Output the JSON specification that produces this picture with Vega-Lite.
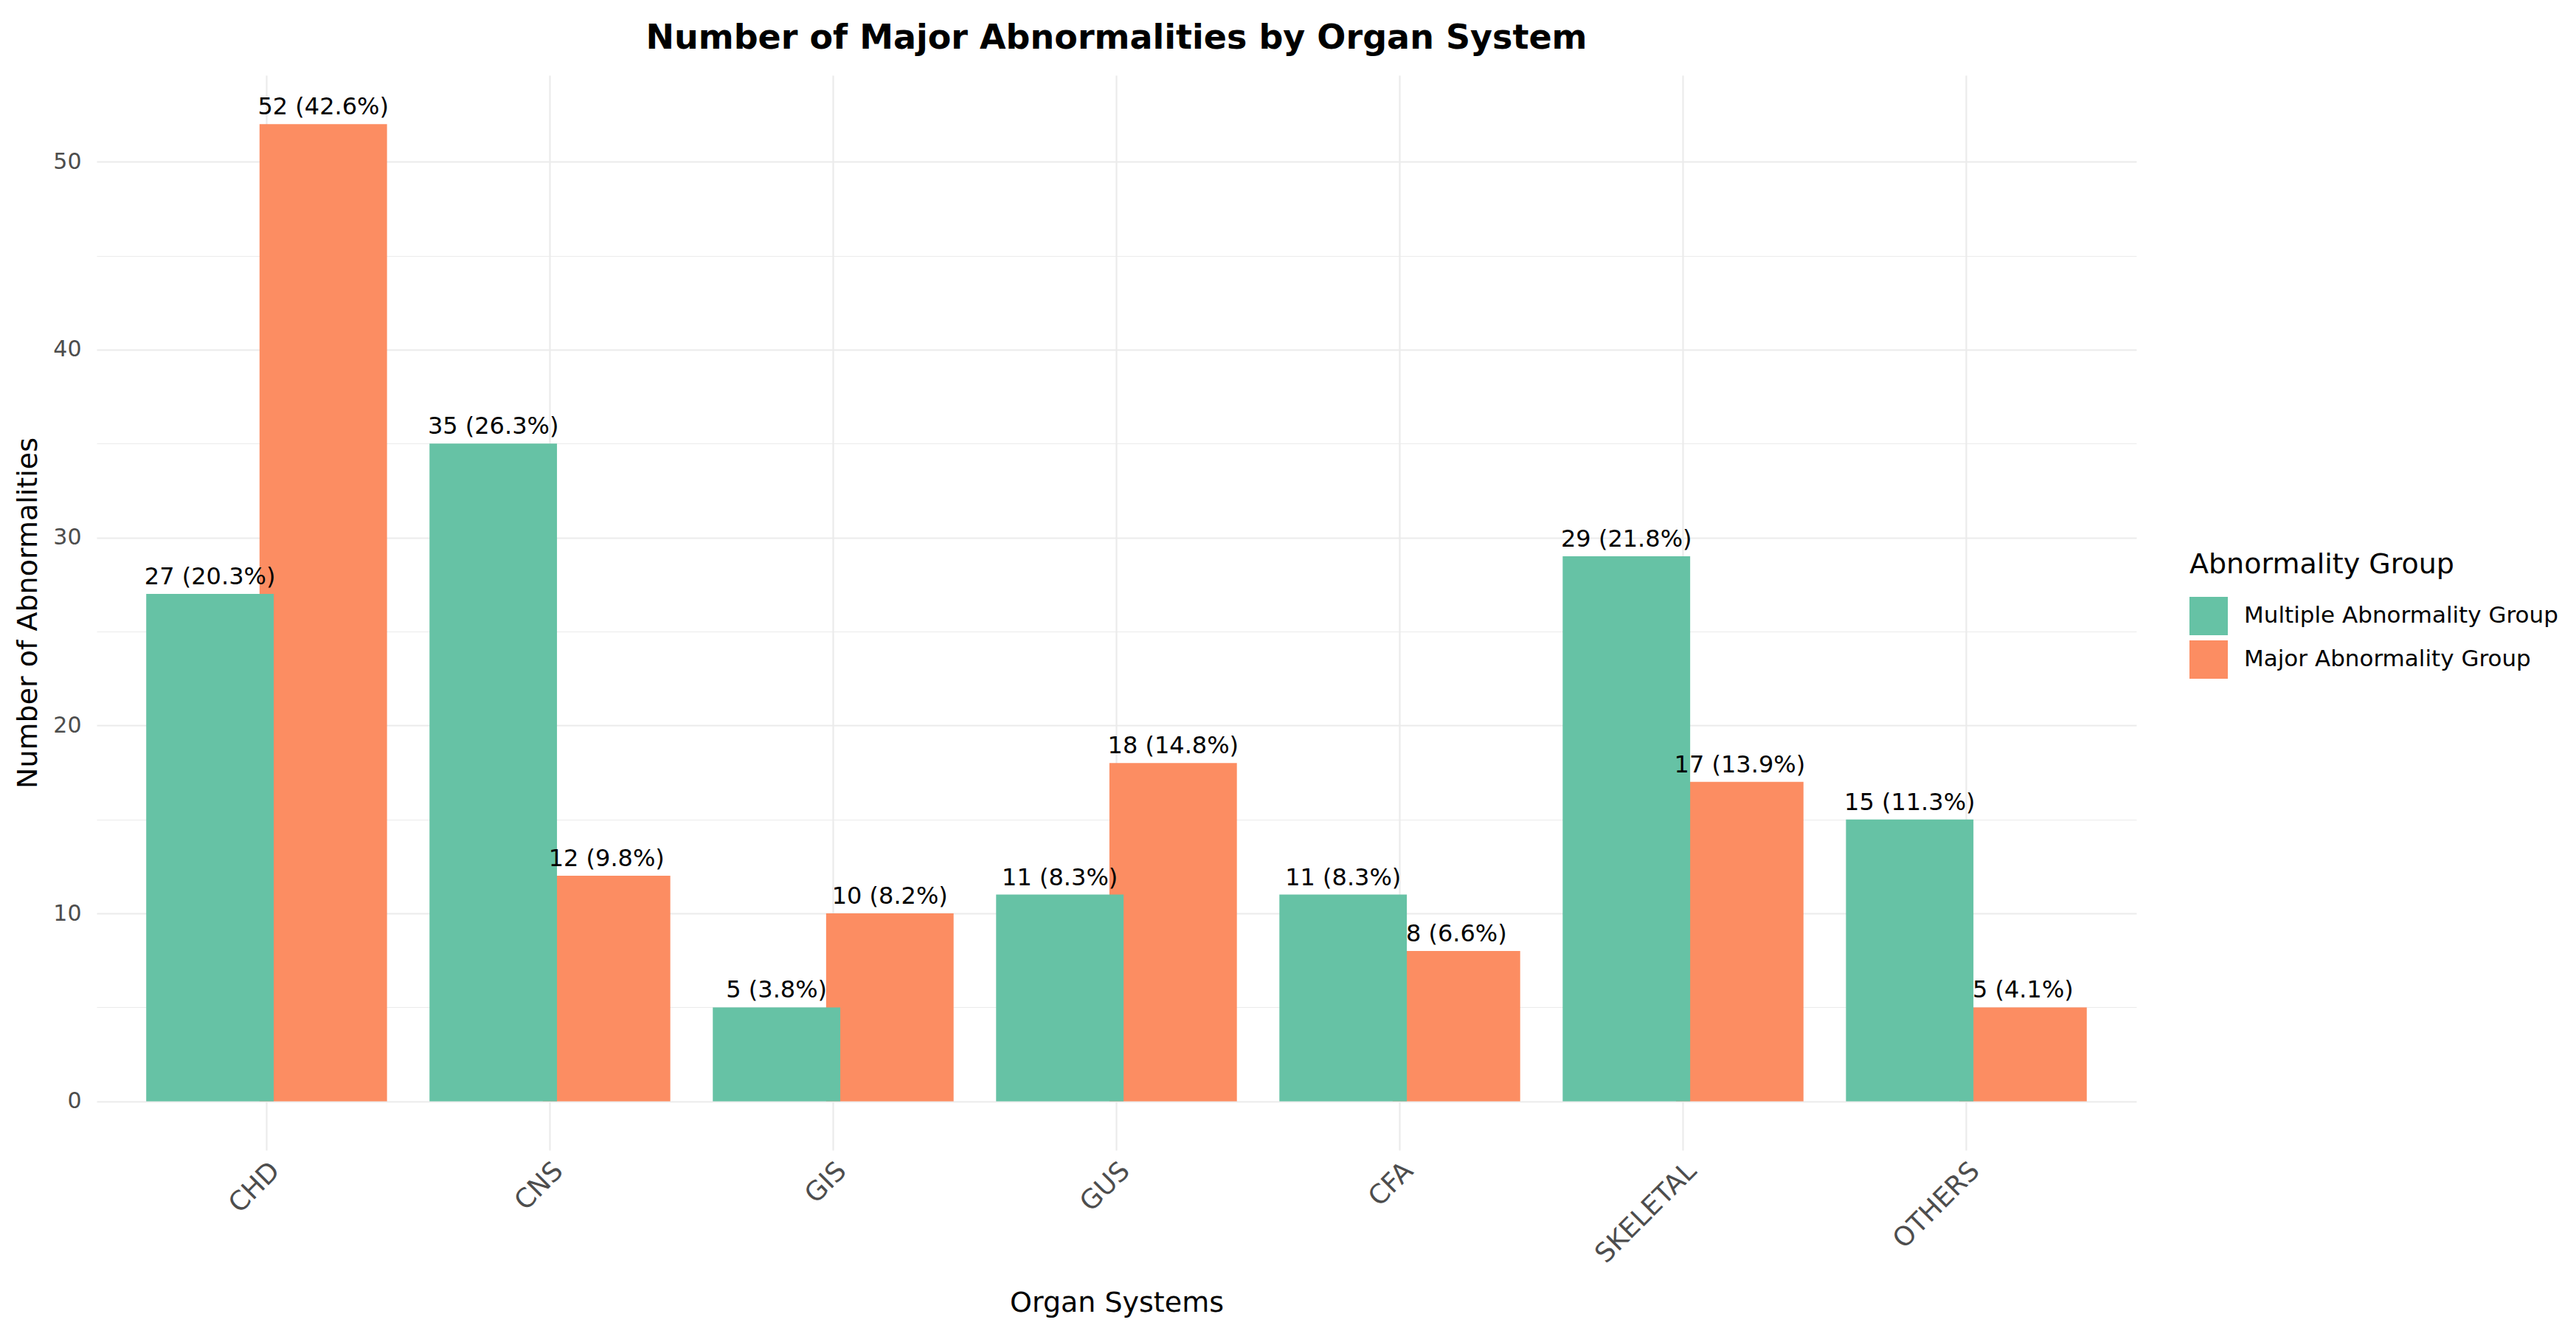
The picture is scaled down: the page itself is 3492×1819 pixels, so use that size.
{
  "$schema": "https://vega.github.io/schema/vega-lite/v6.json",
  "width": 2765,
  "height": 1457,
  "autosize": {"type": "none"},
  "padding": {"left": 131, "top": 102, "right": 596, "bottom": 260},
  "background": "white",
  "title": {
    "text": "Number of Major Abnormalities by Organ System",
    "font": "DejaVu Sans",
    "fontSize": 46,
    "fontWeight": "bold",
    "color": "#000000",
    "anchor": "middle",
    "offset": 26
  },
  "config": {"view": {"stroke": null}, "font": "DejaVu Sans"},
  "data": {
    "values": [
      {"system": "CHD", "group": "Major Abnormality Group", "count": 52, "label": "52 (42.6%)"},
      {"system": "CNS", "group": "Major Abnormality Group", "count": 12, "label": "12 (9.8%)"},
      {"system": "GIS", "group": "Major Abnormality Group", "count": 10, "label": "10 (8.2%)"},
      {"system": "GUS", "group": "Major Abnormality Group", "count": 18, "label": "18 (14.8%)"},
      {"system": "CFA", "group": "Major Abnormality Group", "count": 8, "label": "8 (6.6%)"},
      {"system": "SKELETAL", "group": "Major Abnormality Group", "count": 17, "label": "17 (13.9%)"},
      {"system": "OTHERS", "group": "Major Abnormality Group", "count": 5, "label": "5 (4.1%)"},
      {"system": "CHD", "group": "Multiple Abnormality Group", "count": 27, "label": "27 (20.3%)"},
      {"system": "CNS", "group": "Multiple Abnormality Group", "count": 35, "label": "35 (26.3%)"},
      {"system": "GIS", "group": "Multiple Abnormality Group", "count": 5, "label": "5 (3.8%)"},
      {"system": "GUS", "group": "Multiple Abnormality Group", "count": 11, "label": "11 (8.3%)"},
      {"system": "CFA", "group": "Multiple Abnormality Group", "count": 11, "label": "11 (8.3%)"},
      {"system": "SKELETAL", "group": "Multiple Abnormality Group", "count": 29, "label": "29 (21.8%)"},
      {"system": "OTHERS", "group": "Multiple Abnormality Group", "count": 15, "label": "15 (11.3%)"}
    ]
  },
  "encoding": {
    "x": {
      "field": "system",
      "type": "nominal",
      "sort": ["CHD", "CNS", "GIS", "GUS", "CFA", "SKELETAL", "OTHERS"],
      "scale": {"paddingInner": 0.1, "paddingOuter": 0.15},
      "axis": {
        "title": "Organ Systems",
        "labelAngle": -45,
        "labelAlign": "right",
        "labelBaseline": "top",
        "bandPosition": 0.5,
        "grid": true,
        "gridColor": "#ebebeb",
        "gridWidth": 2.2,
        "ticks": false,
        "domain": false,
        "labelFont": "DejaVu Sans",
        "labelFontSize": 36,
        "labelColor": "#4d4d4d",
        "labelPadding": 10,
        "labelLimit": 1000,
        "titleFont": "DejaVu Sans",
        "titleFontSize": 38,
        "titleFontWeight": "normal",
        "titleColor": "#000000",
        "titlePadding": 29
      }
    },
    "xOffset": {
      "field": "group",
      "type": "nominal",
      "sort": ["Multiple Abnormality Group", "Major Abnormality Group"],
      "scale": {"paddingInner": 0, "paddingOuter": 0.125, "align": 0.8125}
    },
    "y": {
      "field": "count",
      "type": "quantitative",
      "stack": null,
      "scale": {"domain": [-2.6, 54.6], "nice": false, "zero": false},
      "axis": {
        "title": "Number of Abnormalities",
        "values": [0, 5, 10, 15, 20, 25, 30, 35, 40, 45, 50],
        "labelExpr": "datum.value % 10 === 0 ? datum.label : ''",
        "gridColor": "#ebebeb",
        "gridWidth": {"condition": {"test": "datum.value % 10 === 0", "value": 2.2}, "value": 1.1},
        "ticks": false,
        "domain": false,
        "labelFont": "DejaVu Sans",
        "labelFontSize": 30,
        "labelColor": "#4d4d4d",
        "labelPadding": 21,
        "titleFont": "DejaVu Sans",
        "titleFontSize": 38,
        "titleFontWeight": "normal",
        "titleColor": "#000000",
        "titlePadding": 14,
        "titleLimit": 2000
      }
    }
  },
  "layer": [
    {
      "mark": {"type": "bar", "width": {"band": 1.125}, "strokeWidth": 0},
      "encoding": {
        "color": {
          "field": "group",
          "type": "nominal",
          "sort": ["Multiple Abnormality Group", "Major Abnormality Group"],
          "scale": {"range": ["#66c2a5", "#fc8d62"]},
          "legend": {
            "title": "Abnormality Group",
            "orient": "none",
            "legendX": 2837,
            "legendY": 645,
            "symbolType": "square",
            "symbolSize": 2704,
            "symbolStrokeWidth": 0,
            "titleFont": "DejaVu Sans",
            "titleFontSize": 38,
            "titleFontWeight": "normal",
            "titleColor": "#000000",
            "titleLimit": 2000,
            "labelFont": "DejaVu Sans",
            "labelFontSize": 31,
            "labelColor": "#000000",
            "labelLimit": 2000,
            "labelOffset": 22,
            "titlePadding": 24,
            "rowPadding": 7,
            "padding": 0
          }
        }
      }
    },
    {
      "mark": {"type": "text", "baseline": "alphabetic", "dy": -13, "dx": -12, "font": "DejaVu Sans", "fontSize": 32, "color": "#000000"},
      "encoding": {"text": {"field": "label"}}
    }
  ]
}
